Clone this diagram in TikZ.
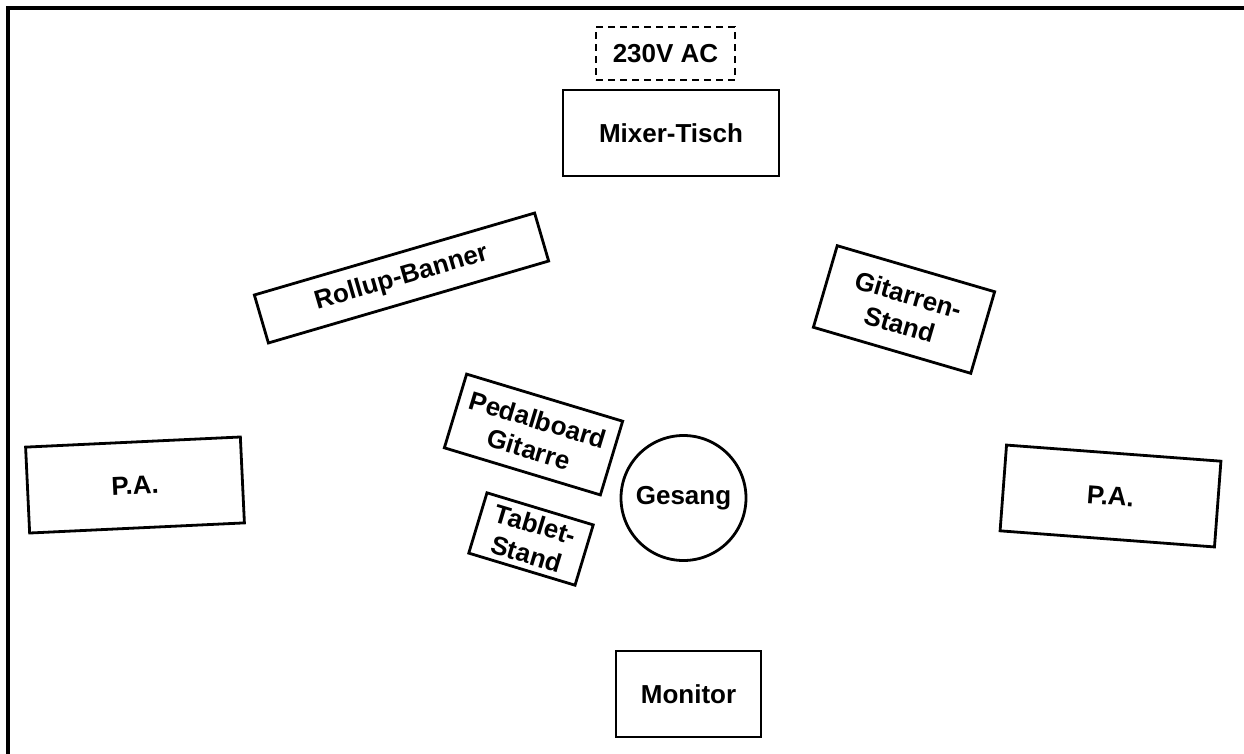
\documentclass[tikz,border=0pt]{standalone}
\usepackage{fontspec}
\setmainfont{Liberation Sans}
\begin{document}
\begin{tikzpicture}[x=1pt,y=-1pt,
  gear/.style={draw,line width=2.8pt,inner sep=0pt,align=center,
    font=\fontsize{26}{31}\selectfont\bfseries}]
  \useasboundingbox (0,0) rectangle (1244,753);
  \clip (0,0) rectangle (1244,753);
  % Stage frame
  \draw[line width=3.2pt] (8,8) rectangle (1270,780);
  % Mixer and power
  \node[gear,dash pattern=on 7pt off 5pt,line width=2.3pt,minimum width=139pt,minimum height=53pt] (power) at (665.5,53.5) {230V AC};
  \node[gear,minimum width=216pt,minimum height=86pt] (mixer) at (671,133) {Mixer-Tisch};
  % Stage gear
  \node[gear,rotate=16.3,minimum width=292pt,minimum height=50pt] (banner) at (401.5,278) {Rollup-Banner};
  \node[gear,rotate=-16.3,minimum width=164pt,minimum height=85pt] (guitarstand) at (904,309.5) {Gitarren-\\Stand};
  \node[gear,rotate=-16.8,minimum width=163pt,minimum height=77pt] (pedalboard) at (533.5,434.5) {Pedalboard\\Gitarre};
  \node[gear,rotate=-16.8,minimum width=111pt,minimum height=63pt] (tablet) at (531,539) {Tablet-\\Stand};
  \node[gear,circle,minimum size=125pt] (vocals) at (683.5,498) {Gesang};
  \node[gear,minimum width=145pt,minimum height=86pt] (monitor) at (688.5,694) {Monitor};
  % Speakers
  \node[gear,rotate=2.7,minimum width=215pt,minimum height=86pt] (paleft) at (135,485) {P.A.};
  \node[gear,rotate=-4.3,minimum width=215pt,minimum height=86pt] (paright) at (1110.5,496) {P.A.};
\end{tikzpicture}
\end{document}
